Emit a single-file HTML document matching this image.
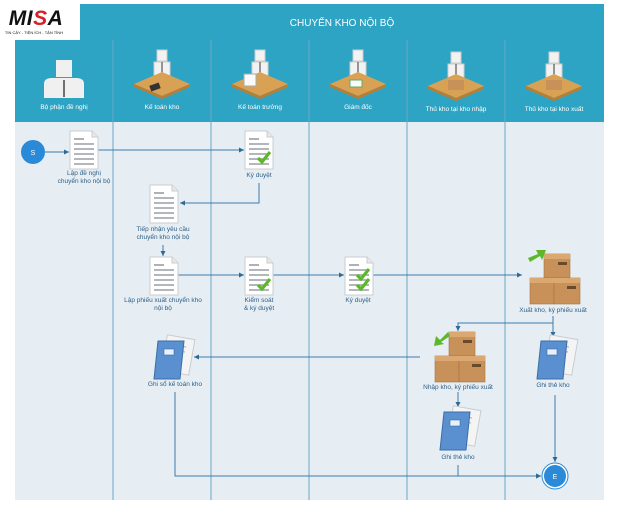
<!DOCTYPE html><html><head><meta charset="utf-8"><style>
body{margin:0;width:624px;height:507px;background:#fff;overflow:hidden;font-family:"Liberation Sans","Noto Sans CJK SC",sans-serif}
svg text{font-family:"Liberation Sans","Noto Sans CJK SC",sans-serif}
</style></head><body>
<svg width="624" height="507" viewBox="0 0 624 507" xmlns="http://www.w3.org/2000/svg">
<defs>
<marker id="a" markerWidth="6" markerHeight="6" refX="5" refY="3" orient="auto"><path d="M0,0.5 L5,3 L0,5.5z" fill="#2d6a96"/></marker>
<g id="doc"><path d="M0,0 H22 L28,6 V38 H0z" fill="#fff" stroke="#c9ccd0"/><path d="M22,0 V6 H28" fill="#e8e8e8" stroke="#c9ccd0"/>
<g stroke="#9a9ea3" stroke-width="1.6"><line x1="4" y1="8" x2="14" y2="8"/><line x1="4" y1="13" x2="24" y2="13"/><line x1="4" y1="18" x2="24" y2="18"/><line x1="4" y1="23" x2="24" y2="23"/><line x1="4" y1="28" x2="24" y2="28"/><line x1="4" y1="33" x2="24" y2="33"/></g></g>
<path id="chk" d="M0,6 L4,10 L12,0" fill="none" stroke="#5cb82a" stroke-width="3.2"/>
<g id="book"><rect x="10" y="0" width="28" height="36" fill="#f4f4f4" stroke="#c9ccd0" transform="rotate(10 24 18)"/><g stroke="#aaa"><line x1="18" y1="8" x2="32" y2="10"/><line x1="17" y1="13" x2="31" y2="15"/></g><path d="M4,4 L30,4 L26,42 L0,42z" fill="#5a8fd0" stroke="#3b6ea8"/><rect x="10" y="12" width="10" height="6" fill="#e8f0fa" stroke="#3b6ea8" stroke-width=".6"/></g>
<g id="box"><g fill="#c8915a" stroke="#a97440" stroke-width=".6"><rect x="14" y="0" width="26" height="24"/><rect x="0" y="24" width="24" height="26"/><rect x="24" y="24" width="26" height="26"/></g><g fill="#dba872"><rect x="14" y="0" width="26" height="5"/><rect x="0" y="24" width="24" height="5"/><rect x="24" y="24" width="26" height="5"/></g><g fill="#6a4a2a"><rect x="28" y="8" width="9" height="3"/><rect x="37" y="32" width="9" height="3"/></g></g>
<g id="desk"><rect x="-5" y="-14" width="10" height="11" fill="#f2f2f2" stroke="#ccc"/><path d="M-8,-2 h16 v20 h-16z" fill="#f2f2f2" stroke="#ccc"/><line x1="0" y1="-2" x2="0" y2="14" stroke="#555" stroke-width="1.2"/><path d="M-28,20 L0,8 L28,20 L0,32z" fill="#d8a153"/><path d="M-28,20 L0,32 L28,20 L28,23 L0,35 L-28,23z" fill="#b67f37"/></g>
</defs>
<rect x="0" y="0" width="624" height="507" fill="#fff"/>
<rect x="80" y="4" width="524" height="36" fill="#2ea4c4"/>
<text x="342" y="26" font-size="10" fill="#fff" text-anchor="middle">CHUYỂN KHO NỘI BỘ</text>
<rect x="15" y="40" width="589" height="82" fill="#2ea4c4"/>
<rect x="15" y="122" width="589" height="378" fill="#e6eef4"/>
<g stroke="#6aa6c4" stroke-width="1"><line x1="113" y1="40" x2="113" y2="500"/><line x1="211" y1="40" x2="211" y2="500"/><line x1="309" y1="40" x2="309" y2="500"/><line x1="407" y1="40" x2="407" y2="500"/><line x1="505" y1="40" x2="505" y2="500"/></g>
<g fill="#fff" font-size="6.5" text-anchor="middle"><text x="64" y="109">Bộ phận đề nghị</text><text x="162" y="109">Kế toán kho</text><text x="260" y="109">Kế toán trưởng</text><text x="358" y="109">Giám đốc</text><text x="456" y="111">Thủ kho tại kho nhập</text><text x="554" y="111">Thủ kho tại kho xuất</text></g>
<rect x="56" y="60" width="16" height="17" fill="#f0f0f0"/><path d="M44,98 V84 Q44,78 52,78 H76 Q84,78 84,84 V98z" fill="#f0f0f0"/><line x1="64" y1="80" x2="64" y2="97" stroke="#444" stroke-width="1.5"/>
<use href="#desk" x="162" y="64"/><use href="#desk" x="260" y="64"/><use href="#desk" x="358" y="64"/><use href="#desk" x="456" y="66"/><use href="#desk" x="554" y="66"/>
<rect x="150" y="84" width="10" height="6" fill="#333" transform="rotate(-20 155 87)"/><rect x="244" y="74" width="12" height="12" fill="#fafafa" stroke="#aaa"/><rect x="350" y="80" width="12" height="7" fill="#fafafa" stroke="#6a6"/>
<rect x="448" y="80" width="16" height="10" fill="#c8915a"/><rect x="546" y="80" width="16" height="10" fill="#c8915a"/>
<text x="36" y="25" font-size="21" font-weight="900" fill="#111" text-anchor="middle" letter-spacing="0.5" font-style="italic">MI<tspan fill="#d52027">S</tspan>A</text>
<text x="34" y="34" font-size="4" fill="#111" text-anchor="middle">TIN CẬY - TIỆN ÍCH - TẬN TÌNH</text>
<g stroke="#3d7aa8" stroke-width="1" fill="none" marker-end="url(#a)">
<line x1="45" y1="152" x2="69" y2="152"/>
<line x1="98" y1="150" x2="244" y2="150"/>
<polyline points="259,183 259,203 180,203"/>
<line x1="163" y1="245" x2="163" y2="256"/>
<line x1="178" y1="275" x2="244" y2="275"/>
<line x1="273" y1="275" x2="344" y2="275"/>
<line x1="373" y1="275" x2="522" y2="275"/>
<polyline points="553,316 553,323 458,323 458,331"/>
<line x1="553" y1="316" x2="553" y2="337"/>
<line x1="420" y1="357" x2="194" y2="357"/>
<line x1="458" y1="392" x2="458" y2="407"/>
<polyline points="458,465 458,476 541,476"/>
<line x1="555" y1="395" x2="555" y2="462"/>
<polyline points="175,392 175,476 541,476"/>
</g>
<circle cx="33" cy="152" r="12" fill="#2a8ad8"/><text x="33" y="155" font-size="7" fill="#fff" text-anchor="middle">S</text>
<circle cx="555" cy="476" r="13" fill="#fff" stroke="#2a8ad8"/><circle cx="555" cy="476" r="11" fill="#2a8ad8"/><text x="555" y="479" font-size="7" fill="#fff" text-anchor="middle">E</text>
<use href="#doc" x="70" y="131"/>
<use href="#doc" x="245" y="131"/><use href="#chk" x="258" y="152"/>
<use href="#doc" x="150" y="185"/>
<use href="#doc" x="150" y="257"/>
<use href="#doc" x="245" y="257"/><use href="#chk" x="258" y="279"/>
<use href="#doc" x="345" y="257"/><use href="#chk" x="357" y="269"/><use href="#chk" x="357" y="279"/>
<use href="#box" x="530" y="254"/><path d="M528,258 L538,254 L536,250 L546,250 L542,260 L540,256 L530,262z" fill="#5cb82a"/>
<use href="#box" x="435" y="332"/><path d="M448,332 L440,340 L436,336 L434,346 L444,344 L441,342 L450,336z" fill="#5cb82a"/>
<use href="#book" x="154" y="337"/>
<use href="#book" x="537" y="337"/>
<use href="#book" x="440" y="408"/>
<g fill="#2f5f86" font-size="6.5" text-anchor="middle">
<text x="84" y="175">Lập đề nghị</text><text x="84" y="183">chuyển kho nội bộ</text>
<text x="259" y="177">Ký duyệt</text>
<text x="163" y="231">Tiếp nhận yêu cầu</text><text x="163" y="239">chuyển kho nội bộ</text>
<text x="163" y="302">Lập phiếu xuất chuyển kho</text><text x="163" y="310">nội bộ</text>
<text x="259" y="302">Kiểm soát</text><text x="259" y="310">&amp; ký duyệt</text>
<text x="358" y="302">Ký duyệt</text>
<text x="553" y="312">Xuất kho, ký phiếu xuất</text>
<text x="458" y="389">Nhập kho, ký phiếu xuất</text>
<text x="175" y="386">Ghi sổ kế toán kho</text>
<text x="553" y="387">Ghi thẻ kho</text>
<text x="458" y="459">Ghi thẻ kho</text>
</g>
</svg>
</body></html>
